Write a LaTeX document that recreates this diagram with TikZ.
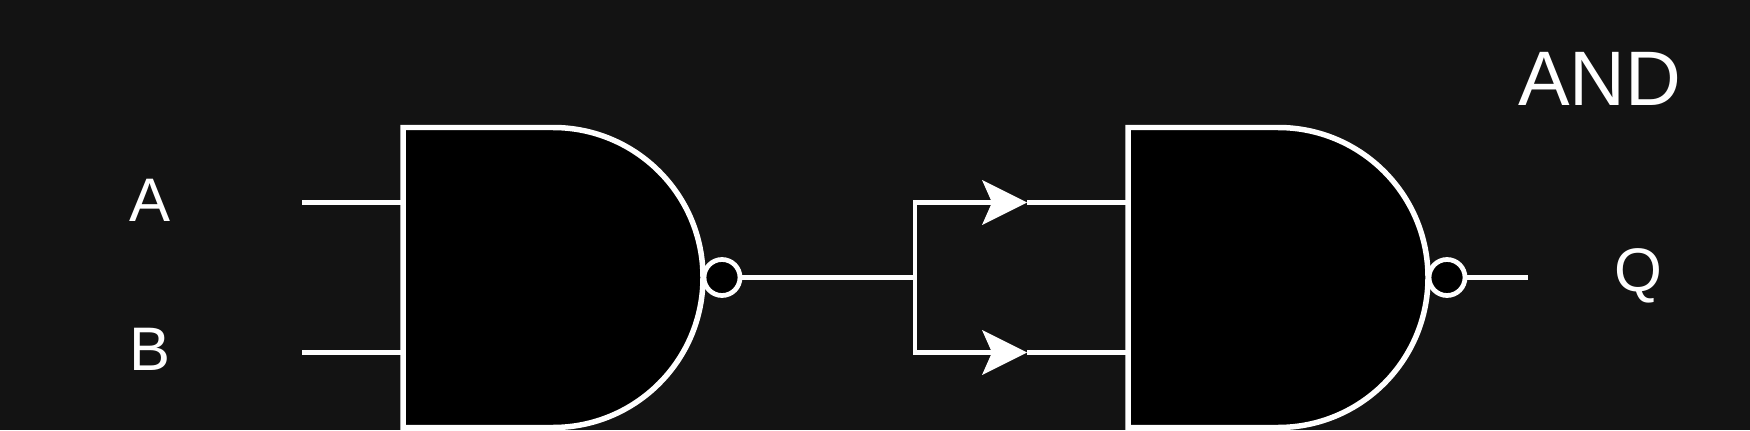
\documentclass[tikz,border=0pt]{standalone}
\usepackage{fontspec}
\setmainfont{Liberation Sans}
\usepackage{xcolor}
\usepackage{tikz}
\usetikzlibrary{arrows.meta}
\definecolor{bgdark}{HTML}{131313}
\tikzset{
    mylabel/.style = {anchor=base, inner sep=0pt, text=white, font=\fontsize{35}{40}\selectfont},
    mytitle/.style = {anchor=base, inner sep=0pt, text=white, font=\fontsize{44}{50}\selectfont},
    gaten/.style = {draw=white, fill=black, line width=0.11cm, line join=miter},
    bubble/.style = {circle, draw=white, fill=black, line width=0.095cm, inner sep=0pt, minimum size=0.72cm},
    wiren/.style = {-, draw=white, line width=0.1cm},
    wirem/.style = {-, draw=white, line width=0.085cm},
    wirea/.style = {wiren, line width=0.09cm, line join=miter, -{Stealth[length=0.9cm, width=0.9cm, inset=0.2cm, line width=0pt, fill=white]}},
}
\begin{document}
\begin{tikzpicture}[x=0.02cm, y=0.02cm]
\fill[bgdark, use as bounding box] (0,0) rectangle (1750,430);
%
\node[mytitle] at (1600,324) (title) {AND};
\node[mylabel] at (150,209) (a) {A};
\node[mylabel] at (150,60) (b) {B};
\node[mylabel] at (1638,139) (q) {Q};
%
\coordinate (g1) at (403,302.5);
\coordinate (g2) at (1128,302.5);
\coordinate (a0) at (302,227.5);
\coordinate (a1) at (403,227.5);
\coordinate (b0) at (302,77.5);
\coordinate (b1) at (403,77.5);
\coordinate (m0) at (803,152.5);
\coordinate (j0) at (917,152.5);
\coordinate (c0) at (915,227.5);
\coordinate (d0) at (915,77.5);
\coordinate (j1) at (915,152.5);
\coordinate (c1) at (1027,227.5);
\coordinate (d1) at (1027,77.5);
\coordinate (c2) at (1128,227.5);
\coordinate (d2) at (1128,77.5);
\coordinate (q0) at (1528,152.5);
%
\draw[wiren] (a0) -- (a1);
\draw[wiren] (b0) -- (b1);
\draw[wiren] (c1) -- (c2);
\draw[wiren] (d1) -- (d2);
%
\draw[gaten] (g1) -- ++(150,0) arc[start angle=90, end angle=-90, radius=150] -- ++(-150,0) -- cycle;
\draw[gaten] (g2) -- ++(150,0) arc[start angle=90, end angle=-90, radius=150] -- ++(-150,0) -- cycle;
\node[bubble] at (722,152.5) (n1) {};
\node[bubble] at (1447,152.5) (n2) {};
%
\draw[wirem] (n1) -- (m0);
\draw[wiren] (m0) -- (j0);
\draw[wirea] (j1) -- (c0) -- (c1);
\draw[wirea] (j1) -- (d0) -- (d1);
\draw[wirem] (n2) -- (q0);
\end{tikzpicture}
\end{document}
